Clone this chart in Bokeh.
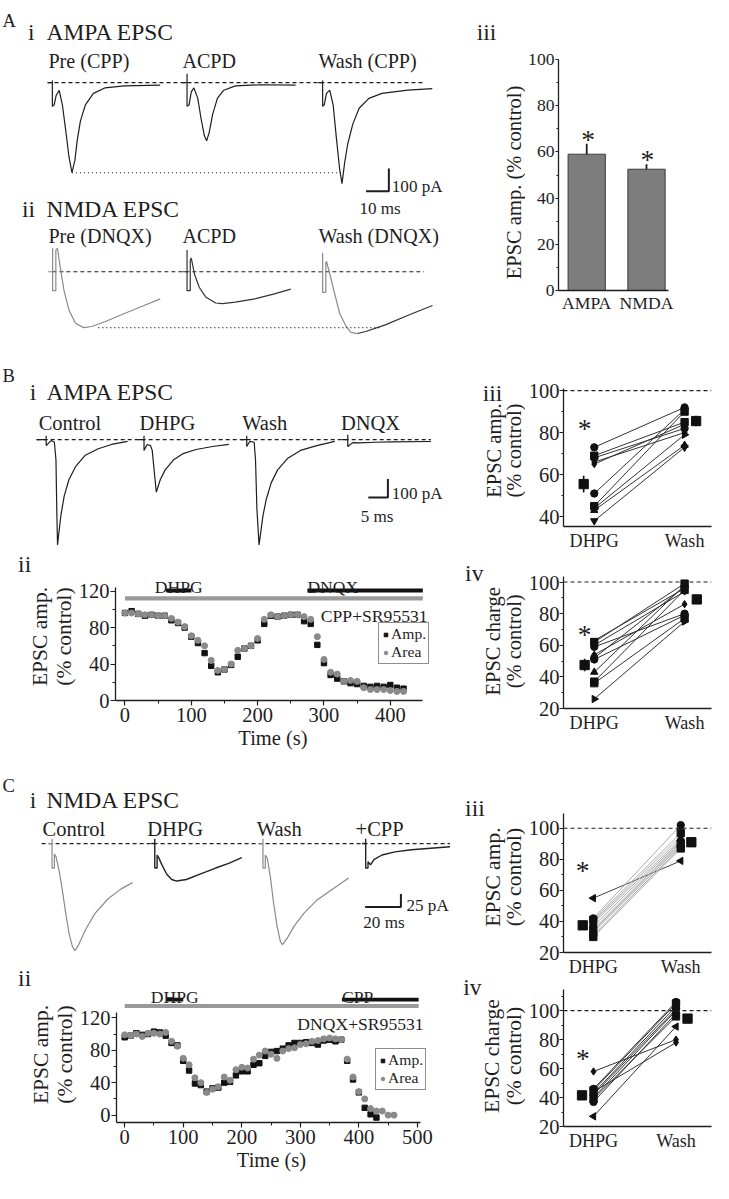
import math
from bokeh.plotting import figure
from bokeh.layouts import row, column
from bokeh.models import Range1d, FixedTicker, Span, Label, Legend, LegendItem, ColumnDataSource
from bokeh.embed import file_html
from bokeh.resources import INLINE

# ============================ DATA ============================
# A i : AMPA EPSC traces (time from stimulus in ms, current in pA)
A1_pre_t = [-2, 0, 0, 0, 0.8, 1.7, 3.0, 4.4, 5.9, 7.3, 8.6, 9.9, 10.9, 12.3, 14.5, 18, 23, 31.6, 47.3]
A1_pre_i = [0, 0, 9, -104, -97, -55, -34, -97, -212, -326, -395, -340, -254, -169, -97, -47, -23, -14, -11]
A1_acpd_t = [-2, 0, 0, 0, 0.9, 1.85, 3.0, 4.7, 6.1, 7.6, 8.6, 9.7, 11.2, 13.3, 16.1, 21.2, 32.6, 47.6]
A1_acpd_i = [0, 0, 39, -103, -97, -40, -23, -69, -155, -233, -255, -219, -140, -69, -33, -14, -9, -11]
A1_wash_t = [-2, 0, 0, 0, 0.7, 1.7, 3.1, 4.6, 6.0, 7.5, 8.5, 9.6, 11.0, 13.2, 16.0, 20.3, 26, 37.4, 48.1]
A1_wash_i = [0, 0, 10, -104, -97, -47, -33, -97, -240, -383, -443, -355, -269, -183, -112, -69, -47, -33, -26]
A1_labels = ["Pre (CPP)", "ACPD", "Wash (CPP)"]

# A ii : NMDA EPSC traces
A2_pre_t = [-2, 0, 0, 0, 1.4, 1.4, 2.1, 3.6, 5.0, 7.2, 10.0, 13.6, 17.2, 22.9, 31.5, 40.1, 47.2]
A2_pre_i = [0, 0, 103, -83, -83, 95, 103, 3, -83, -169, -226, -245, -240, -219, -183, -148, -119]
A2_acpd_t = [-2, 0, 0, 0, 1.4, 1.4, 1.85, 3.3, 5.4, 8.3, 12.6, 15.5, 21.2, 29.7, 38.3, 45.5]
A2_acpd_i = [0, 0, 96, -83, -83, 50, 60, -12, -69, -112, -137, -140, -133, -119, -97, -76]
A2_wash_t = [-2, 0, 0, 0, 1.4, 1.4, 1.7, 3.2, 5.3, 7.5, 10.3, 12.4, 15.3, 18.9, 27.5, 37.5, 48.2]
A2_wash_i = [0, 0, 82, -90, -90, 40, 45, -12, -97, -183, -240, -266, -271, -262, -233, -191, -148]
A2_labels = ["Pre (DNQX)", "ACPD", "Wash (DNQX)"]

# A iii : summary bars
A3_groups = ["AMPA", "NMDA"]
A3_mean = [59.0, 52.5]
A3_sem = [4.5, 2.2]

# B i : AMPA EPSC traces
B1_ctrl_t = [-2.5, 0, 0, 0, 1.25, 2.1, 2.5, 2.7, 2.9, 3.75, 4.6, 5.8, 7.5, 10, 13.3, 16.7, 20.8]
B1_ctrl_i = [0, 0, 21, -32, -5, -14, -110, -374, -567, -409, -304, -216, -146, -84, -49, -26, -9]
B1_dhpg_t = [-1.5, 0, 0, 0, 0.8, 1.65, 2.1, 2.7, 3.15, 4.15, 5.4, 7.5, 10, 13.3, 17.5, 21.7]
B1_dhpg_i = [0, 0, 21, -58, -26, -32, -58, -189, -283, -216, -163, -110, -75, -53, -37, -26]
B1_wash_t = [-1.5, 0, 0, 0, 0.8, 1.9, 2.25, 2.6, 3.15, 4.15, 5.0, 6.25, 7.9, 10.4, 13.75, 17.9, 22.5]
B1_wash_i = [0, 0, 21, -37, -9, -14, -110, -374, -567, -409, -321, -233, -163, -102, -58, -32, -9]
B1_dnqx_t = [-1.5, 0, 0, 0, 1.25, 2.9, 7.1, 11.25, 21.25]
B1_dnqx_i = [0, 0, 26, -37, -16, -17, -14, -12, -10]
B1_labels = ["Control", "DHPG", "Wash", "DNQX"]

# B ii : time course (s, % control)
B2_t = [0, 10, 20, 30, 40, 50, 60, 70, 80, 90, 100, 110, 120, 130, 140, 150, 160, 170, 180, 190, 200,
        210, 220, 230, 240, 250, 260, 270, 280, 290, 300, 310, 320, 330, 340, 350, 360, 370, 380, 390,
        400, 410, 420]
B2_amp = [96, 98, 95, 93, 94, 93, 93, 88, 85, 80, 70, 63, 52, 38, 31, 34, 39, 48, 57, 60, 66,
          84, 93, 92, 93, 94, 94, 87, 84, 61, 41, 28, 24, 21, 19, 18, 16, 15, 16, 15, 17, 14, 13]
B2_area = [96, 96, 95, 94, 94, 93, 93, 90, 86, 81, 71, 66, 60, 44, 33, 34, 40, 55, 57, 60, 68,
           89, 94, 92, 93, 94, 94, 92, 89, 70, 45, 31, 29, 21, 22, 21, 14, 12, 12, 12, 11, 10, 10]
B2_drugs = ["DHPG", "DNQX"]
B2_drug_on = [62, 275]
B2_drug_off = [100, 449]
B2_base_label = "CPP+SR95531"
B2_base_on, B2_base_off = 0, 449

# B iii : EPSC amplitude, individual cells + mean
B3_dhpg = [73, 69, 68, 66, 65, 51, 45, 44, 43, 38]
B3_wash = [92, 85, 82, 80, 84, 91, 90, 79, 74, 73]
B3_mean = [55.5, 85.5]
B3_sem = [4.0, 2.5]

# B iv : EPSC charge
B4_dhpg = [63, 62, 60, 59, 54, 52, 51, 43, 37, 36, 26]
B4_wash = [96, 99, 94, 80, 86, 97, 79, 98, 95, 77, 75]
B4_mean = [47.5, 89.0]
B4_sem = [4.0, 2.0]

# C i : NMDA EPSC traces
C1_ctrl_t = [-2, 0, 0, 0, 1.3, 1.3, 2.2, 4, 5.8, 7.65, 9.45, 11.3, 12.7, 14.9, 18.6, 24, 31.3, 38.6, 45]
C1_ctrl_i = [0, 0, 9, -47, -47, -20, -25, -53, -91, -134, -172, -197, -206, -194, -166, -134, -106, -87, -75]
C1_dhpg_t = [-2, 0, 0, 0, 1.3, 1.3, 2.2, 4, 6.7, 9.45, 12.2, 17.65, 24.9, 34, 41.3, 48.6]
C1_dhpg_i = [0, 0, 9, -47, -47, -22, -27, -41, -59, -69, -72, -69, -59, -47, -38, -27]
C1_wash_t = [-2, 0, 0, 0, 1.3, 1.3, 2.4, 4.2, 6, 7.9, 9.7, 10.9, 13.7, 17.3, 22.8, 30, 39.2, 47.9]
C1_wash_i = [0, 0, 9, -47, -47, -22, -28, -66, -116, -159, -188, -194, -181, -159, -134, -109, -87, -66]
C1_cpp_t = [-2, 0, 0, 0, 1.3, 1.3, 2.7, 4.6, 9.1, 16.4, 25.5, 36.4, 47.4]
C1_cpp_i = [0, 0, 9, -47, -47, -35, -41, -31, -22, -16, -12, -9, -6]
C1_labels = ["Control", "DHPG", "Wash", "+CPP"]

# C ii : time course
C2_t_amp = [0, 10, 20, 30, 40, 50, 60, 70, 80, 90, 100, 110, 120, 130, 140, 150, 160, 170, 180, 190,
            200, 210, 220, 230, 240, 250, 260, 270, 280, 290, 300, 310, 320, 330, 340, 350, 360, 370,
            380, 390, 400, 410, 420, 430]
C2_amp = [96, 98, 101, 99, 100, 103, 102, 98, 89, 86, 67, 55, 39, 37, 29, 33, 34, 40, 41, 49,
          54, 54, 62, 64, 73, 78, 79, 82, 86, 89, 89, 90, 89, 87, 92, 93, 91, 93,
          67, 44, 28, 9, 1, -3]
C2_t_area = [0, 10, 20, 30, 40, 50, 60, 70, 80, 90, 100, 110, 120, 130, 140, 150, 160, 170, 180, 190,
             200, 210, 220, 230, 240, 250, 260, 270, 280, 290, 300, 310, 320, 330, 340, 350, 360, 370,
             380, 390, 400, 410, 420, 430, 440, 450, 460]
C2_area = [99, 98, 100, 97, 101, 101, 100, 102, 91, 85, 70, 62, 46, 40, 28, 32, 35, 47, 43, 56,
           59, 58, 69, 74, 79, 75, 70, 79, 82, 83, 87, 88, 91, 92, 94, 95, 94, 93,
           69, 47, 29, 20, 8, 5, 5, 0, 0]
C2_drugs = ["DHPG", "CPP"]
C2_drug_on = [71, 371]
C2_drug_off = [100, 502]
C2_base_label = "DNQX+SR95531"
C2_base_on, C2_base_off = 0, 502

# C iii : EPSC amplitude
C3_dhpg = [55, 42, 41, 40, 39, 37, 35, 34, 33, 31, 30]
C3_wash = [79, 102, 97, 95, 93, 92, 91, 90, 89, 88, 87]
C3_mean = [37.5, 91.0]
C3_sem = [1.5, 1.5]

# C iv : EPSC charge
C4_dhpg = [58, 46, 45, 44, 43, 42, 40, 39, 37, 27]
C4_wash = [80, 106, 105, 78, 103, 101, 100, 96, 98, 89]
C4_mean = [41.5, 94.5]
C4_sem = [2.0, 2.0]

# ============================ STYLE ============================
FONT = "Liberation Serif"
K = 713 / 729.0
DARK = "#1e1e1e"
GREY = "#8a8a8a"
B3_shapes = ["circle", "square", "circle", "diamond", "diamond", "circle", "square", "triangle_right", "triangle", "inverted_triangle"]
B4_shapes = ["inverted_triangle", "square", "diamond", "circle", "diamond", "circle", "circle", "triangle", "square", "square", "triangle_right"]
C3_shapes = ["triangle_left", "circle", "square", "diamond", "triangle", "circle", "inverted_triangle", "square", "diamond", "circle", "square"]
C4_shapes = ["diamond", "circle", "square", "diamond", "triangle", "circle", "inverted_triangle", "square", "circle", "triangle_left"]


def px(v):
    return int(round(v * K))


def fs(v):
    return "%.1fpx" % (v * K)


class Panel:
    def __init__(self, x0, y0, x1, y1, frame, xr, yr, axes=True):
        fl, ft, fr, fb = frame
        self.fl, self.ft, self.fr, self.fb = fl, ft, fr, fb
        self.xs, self.xe = xr
        self.ys, self.ye = yr
        kw = dict(width=px(x1) - px(x0), height=px(y1) - px(y0),
                  x_range=Range1d(*xr), y_range=Range1d(*yr),
                  output_backend="svg", toolbar_location=None,
                  min_border_left=px(fl) - px(x0), min_border_right=px(x1) - px(fr),
                  min_border_top=px(ft) - px(y0), min_border_bottom=px(y1) - px(fb))
        if not axes:
            kw.update(x_axis_location=None, y_axis_location=None)
        p = figure(**kw)
        p.frame_align = False
        p.outline_line_color = None
        p.xgrid.visible = False
        p.ygrid.visible = False
        p.background_fill_color = "white"
        p.border_fill_color = "white"
        self.p = p

    def X(self, xr):
        return self.xs + (xr - self.fl) / (self.fr - self.fl) * (self.xe - self.xs)

    def Y(self, yr):
        return self.ys + (self.fb - yr) / (self.fb - self.ft) * (self.ye - self.ys)


def txt(P, xr, yr, s, size, align="left", base="alphabetic", angle=0.0, color=DARK):
    P.p.add_layout(Label(x=P.X(xr), y=P.Y(yr), text=s, text_font=FONT, text_font_size=fs(size),
                         text_align=align, text_baseline=base, angle=angle, text_color=color))


def style_axis(ax, size, tick_out=5, minor_out=3, standoff=2):
    ax.axis_line_color = DARK
    ax.axis_line_width = 1.3
    ax.major_tick_line_color = DARK
    ax.major_tick_line_width = 1.2
    ax.major_tick_out = tick_out
    ax.major_tick_in = 0
    ax.minor_tick_line_color = DARK
    ax.minor_tick_out = minor_out
    ax.minor_tick_in = 0
    ax.major_label_text_font = FONT
    ax.major_label_text_font_size = fs(size)
    ax.major_label_text_color = DARK
    ax.major_label_standoff = standoff


def axis_title(ax, s, size, standoff=0):
    ax.axis_label = s
    ax.axis_label_text_font = FONT
    ax.axis_label_text_font_size = fs(size)
    ax.axis_label_text_font_style = "normal"
    ax.axis_label_text_color = DARK
    ax.axis_label_standoff = standoff
    ax.axis_label_text_line_height = 1.0


def trace_panel(x0, y0, x1, y1, ms_px, pa_px):
    return Panel(x0, y0, x1, y1, (x0, y0, x1, y1), (0, (x1 - x0) / ms_px), (-(y1 - y0) / pa_px, 0), axes=False)


def draw_trace(P, t, i, stim_x, base_y, color=DARK, width=1.2):
    T0, B0 = P.X(stim_x), P.Y(base_y)
    P.p.line([v + T0 for v in t], [v + B0 for v in i], line_color=color, line_width=width)


def baseline(P, xa, xb, base_y, dash="4 3"):
    B0 = P.Y(base_y)
    P.p.line([P.X(xa), P.X(xb)], [B0, B0], line_color=DARK, line_width=1.2, line_dash=dash)


def scale_bar(P, cx, cy, ms, pa, lab_pa, lab_ms, pa_xy, ms_xy, size):
    X0, Y0 = P.X(cx), P.Y(cy)
    P.p.line([X0 - ms, X0, X0], [Y0, Y0, Y0 + pa], line_color=DARK, line_width=2)
    txt(P, pa_xy[0], pa_xy[1], lab_pa, size)
    txt(P, ms_xy[0], ms_xy[1], lab_ms, size, align="center")


# ============================ A : traces ============================
PA = trace_panel(0, 0, 460, 368, 2.33, 0.233)
txt(PA, 2, 20, "A", 19)
txt(PA, 28, 32, "i", 24)
txt(PA, 47, 32, "AMPA EPSC", 24)
txt(PA, 22, 213, "ii", 24)
txt(PA, 47, 213, "NMDA EPSC", 24)
for lab, xx in zip(A1_labels, [49, 186, 325]):
    txt(PA, xx, 62, lab, 20.5)
for lab, xx in zip(A2_labels, [49, 186, 325]):
    txt(PA, xx, 241, lab, 20.5)
A1_stim = [53, 190.7, 329.3]
baseline(PA, 48, 433, 84)
for (t, i), sx in zip([(A1_pre_t, A1_pre_i), (A1_acpd_t, A1_acpd_i), (A1_wash_t, A1_wash_i)], A1_stim):
    draw_trace(PA, t, i, sx, 84)
pk = min(A1_pre_i)
PA.p.line([PA.X(A1_stim[0]) + A1_pre_t[A1_pre_i.index(pk)], PA.X(A1_stim[2]) + A1_wash_t[A1_wash_i.index(min(A1_wash_i))] - 0.5],
          [PA.Y(84) + pk] * 2, line_color=DARK, line_width=1.1, line_dash="1 3")
A2_stim = [53.3, 190.7, 329.3]
baseline(PA, 53, 433, 277.3)
draw_trace(PA, A2_pre_t, A2_pre_i, A2_stim[0], 277.3, color=GREY)
draw_trace(PA, A2_acpd_t, A2_acpd_i, A2_stim[1], 277.3, color="#333333")
cut = 12
draw_trace(PA, A2_wash_t[:cut + 1], A2_wash_i[:cut + 1], A2_stim[2], 277.3, color=GREY)
draw_trace(PA, A2_wash_t[cut:], A2_wash_i[cut:], A2_stim[2], 277.3, color="#333333")
pk2 = min(A2_pre_i)
PA.p.line([PA.X(100), PA.X(390)], [PA.Y(277.3) + pk2] * 2, line_color=DARK, line_width=1.1, line_dash="1 3")
scale_bar(PA, 397, 195, 10, 100, "100 pA", "10 ms", (400, 190), (388, 213), 17.5)

# ============================ B i : traces ============================
PB1 = trace_panel(0, 368, 460, 585, 4.0, 0.19)
txt(PB1, 2, 383, "B", 19)
txt(PB1, 30, 400, "i", 24)
txt(PB1, 47, 400, "AMPA EPSC", 24)
txt(PB1, 18, 576, "ii", 24)
for lab, xx in zip(B1_labels, [39, 142, 247, 348]):
    txt(PB1, xx, 432, lab, 21)
baseline(PB1, 37, 440, 449)
B1_stim = [46.7, 146.7, 251.7, 355]
for (t, i), sx in zip([(B1_ctrl_t, B1_ctrl_i), (B1_dhpg_t, B1_dhpg_i), (B1_wash_t, B1_wash_i), (B1_dnqx_t, B1_dnqx_i)], B1_stim):
    draw_trace(PB1, t, i, sx, 449)
scale_bar(PB1, 396, 508.3, 5, 100, "100 pA", "5 ms", (400, 504), (385, 528), 17.5)


# ============================ time course helper ============================
def time_course(P, t_amp, amp, t_area, area, xt, xmt, ax_xb, ax_yb, drugs, on, off, bar_y, lab_y,
                base_lab, b_on, b_off, base_y, base_lab_xy, leg_xy):
    p = P.p
    r1 = p.scatter(t_amp, amp, marker="square", size=5.5 * K, fill_color="#111111", line_color="#111111")
    r2 = p.scatter(t_area, area, marker="circle", size=6.2 * K, fill_color=GREY, line_color=GREY)
    p.segment(x0=[b_on], y0=[base_y], x1=[b_off], y1=[base_y], line_color="#9a9a9a", line_width=4.2 * K)
    p.segment(x0=on, y0=[bar_y] * len(on), x1=off, y1=[bar_y] * len(on), line_color="#111111", line_width=4 * K)
    for k, (d, a, b) in enumerate(zip(drugs, on, off)):
        p.add_layout(Label(x=((a + b) / 2 if k == 0 else a), y=lab_y, text=d, text_font=FONT, text_font_size=fs(18),
                           text_align=("center" if k == 0 else "left"), text_baseline="alphabetic", text_color=DARK))
    txt(P, base_lab_xy[0], base_lab_xy[1], base_lab, 18, align="right")
    p.yaxis.ticker = FixedTicker(ticks=[0, 40, 80, 120], minor_ticks=[20, 60, 100])
    p.xaxis.ticker = FixedTicker(ticks=xt, minor_ticks=xmt)
    p.xaxis.bounds = ax_xb
    p.yaxis.bounds = ax_yb
    style_axis(p.yaxis[0], 21, standoff=1)
    style_axis(p.xaxis[0], 21)
    axis_title(p.yaxis[0], "EPSC amp.\n(% control)", 22, standoff=0)
    axis_title(p.xaxis[0], "Time (s)", 21, standoff=2)
    leg = Legend(items=[LegendItem(label="Amp.", renderers=[r1]), LegendItem(label="Area", renderers=[r2])],
                 location=(px(leg_xy[0]), px(leg_xy[1])))
    leg.label_text_font = FONT
    leg.label_text_font_size = fs(16)
    leg.label_text_color = DARK
    leg.label_standoff = 1
    leg.label_height = int(14 * K)
    leg.label_text_line_height = 0.9
    leg.glyph_width = int(10 * K)
    leg.glyph_height = int(12 * K)
    leg.spacing = 0
    leg.padding = 2
    leg.margin = 0
    leg.border_line_color = DARK
    leg.border_line_width = 1.4
    leg.background_fill_alpha = 1.0
    p.add_layout(leg)


# ============================ B ii ============================
PB2 = Panel(0, 585, 460, 790, (118, 585, 440, 715.7), (-14.3, 460.6), (0, 140.4))
time_course(PB2, B2_t, B2_amp, B2_t, B2_area, [0, 100, 200, 300, 400], [50, 150, 250, 350],
            (-14.3, 449), (0, 124), B2_drugs, B2_drug_on, B2_drug_off, 120.7, 124.8,
            B2_base_label, B2_base_on, B2_base_off, 112, (437, 629), (269, 36.7))

# ============================ C i : traces ============================
PC1 = trace_panel(0, 790, 460, 1008, 1.83, 0.533)
txt(PC1, 2, 802, "C", 19)
txt(PC1, 30, 817, "i", 24)
txt(PC1, 47, 817, "NMDA EPSC", 24)
txt(PC1, 18, 999, "ii", 24)
for lab, xx in zip(C1_labels, [43, 150, 262, 363]):
    txt(PC1, xx, 847, lab, 21)
baseline(PC1, 42, 460, 861.7)
C1_stim = [52.7, 157.7, 268.3, 373.3]
draw_trace(PC1, C1_ctrl_t, C1_ctrl_i, C1_stim[0], 861.7, color=GREY)
draw_trace(PC1, C1_dhpg_t, C1_dhpg_i, C1_stim[1], 861.7, color="#222222", width=1.4)
draw_trace(PC1, C1_wash_t, C1_wash_i, C1_stim[2], 861.7, color=GREY)
draw_trace(PC1, C1_cpp_t, C1_cpp_i, C1_stim[3], 861.7, color="#222222", width=1.4)
scale_bar(PC1, 409.3, 926.7, 20, 25, "25 pA", "20 ms", (415, 925), (392, 943), 17.5)

# ============================ C ii ============================
PC2 = Panel(0, 1008, 460, 1199, (118.3, 1008, 436, 1150), (-14, 515.5), (-9.1, 158.6))
time_course(PC2, C2_t_amp, C2_amp, C2_t_area, C2_area, [0, 100, 200, 300, 400, 500], [50, 150, 250, 350, 450],
            (-14, 505), (-9.1, 126), C2_drugs, C2_drug_on, C2_drug_off, 142.4, 145.2,
            C2_base_label, C2_base_on, C2_base_off, 134.6, (433, 1047), (264.7, 33))

# ============================ right column: label strip ============================
SPLIT = 537
PS = Panel(460, 0, SPLIT, 1199, (460, 0, SPLIT, 1199), (460, SPLIT), (1199, 0), axes=False)
txt(PS, 487, 32, "iii", 24)
txt(PS, 525, 186, "EPSC amp. (% control)", 21, align="center", base="middle", angle=math.pi / 2)
txt(PS, 493, 401, "iii", 24)
txt(PS, 505, 460, "EPSC amp.", 21, align="center", base="middle", angle=math.pi / 2)
txt(PS, 525, 460, "(% control)", 21, align="center", base="middle", angle=math.pi / 2)
txt(PS, 475, 585, "iv", 24)
txt(PS, 504, 655, "EPSC charge", 21, align="center", base="middle", angle=math.pi / 2)
txt(PS, 525, 655, "(% control)", 21, align="center", base="middle", angle=math.pi / 2)
txt(PS, 475, 825, "iii", 24)
txt(PS, 504, 896, "EPSC amp.", 22, align="center", base="middle", angle=math.pi / 2)
txt(PS, 525, 896, "(% control)", 22, align="center", base="middle", angle=math.pi / 2)
txt(PS, 473, 1008, "iv", 24)
txt(PS, 503, 1079, "EPSC charge", 22, align="center", base="middle", angle=math.pi / 2)
txt(PS, 525, 1079, "(% control)", 22, align="center", base="middle", angle=math.pi / 2)

# ============================ A iii : bars ============================
PA3 = Panel(SPLIT, 0, 729, 368, (568, 60, 683, 296), (-0.472, 1.368), (0, 100))
p = PA3.p
p.vbar(x=[0, 1], top=A3_mean, bottom=0, width=0.624, fill_color="#7d7d7d", line_color="#3c3c3c", line_width=1)
p.segment(x0=[0, 1], y0=A3_mean, x1=[0, 1], y1=[m + s for m, s in zip(A3_mean, A3_sem)], line_color=DARK, line_width=1.8)
p.yaxis.ticker = FixedTicker(ticks=[0, 20, 40, 60, 80, 100], minor_ticks=[10, 30, 50, 70, 90])
p.xaxis.ticker = FixedTicker(ticks=[0, 1], minor_ticks=[])
p.xaxis.major_label_overrides = {0: A3_groups[0], 1: A3_groups[1]}
style_axis(p.yaxis[0], 18, tick_out=3, minor_out=2, standoff=1)
style_axis(p.xaxis[0], 18, tick_out=0, minor_out=0)
txt(PA3, 599, 142, "*", 28, align="center")
txt(PA3, 661, 163, "*", 28, align="center")


# ============================ pair panels ============================
def pair_panel(P, dhpg, wash, shapes, mean_x, means, sems, line_cols, yt, ymt, star_xy):
    p = P.p
    n = len(dhpg)
    mk = [s if s in ("circle", "square", "diamond", "triangle", "inverted_triangle") else "triangle" for s in shapes]
    an = [(-math.pi / 2 if s == "triangle_right" else (math.pi / 2 if s == "triangle_left" else 0.0)) for s in shapes]
    p.add_layout(Span(location=100, dimension="width", line_color=DARK, line_width=1.1, line_dash="4 3"))
    p.segment(x0=[0] * n, y0=dhpg, x1=[1] * n, y1=wash, line_color=line_cols, line_width=1.0)
    src = ColumnDataSource(dict(x=[0] * n + [1] * n, y=list(dhpg) + list(wash), m=mk + mk, a=an + an))
    p.scatter("x", "y", marker="m", angle="a", size=7.5 * K, fill_color="#111111", line_color="#111111", source=src)
    p.segment(x0=mean_x, y0=[m - s for m, s in zip(means, sems)], x1=mean_x, y1=[m + s for m, s in zip(means, sems)],
              line_color="#111111", line_width=1.6)
    p.scatter(mean_x, means, marker="square", size=9.5 * K, fill_color="#111111", line_color="#111111")
    p.yaxis.ticker = FixedTicker(ticks=yt, minor_ticks=ymt)
    p.xaxis.ticker = FixedTicker(ticks=[0, 1], minor_ticks=[])
    p.xaxis.major_label_overrides = {0: "DHPG", 1: "Wash"}
    style_axis(p.yaxis[0], 21, tick_out=4, minor_out=2, standoff=0)
    style_axis(p.xaxis[0], 18.5, tick_out=0, minor_out=0, standoff=4)
    txt(P, star_xy[0], star_xy[1], "*", 28, align="center")


PB3 = Panel(SPLIT, 368, 729, 588, (573, 397, 727, 537.3), ((573 - 605) / 94, (727 - 605) / 94), (35.3, 101))
pair_panel(PB3, B3_dhpg, B3_wash, B3_shapes, [(594 - 605) / 94, (711 - 605) / 94], B3_mean, B3_sem,
           ["#333333"] * len(B3_dhpg), [40, 60, 80, 100], [50, 70, 90], (595, 438))

PB4 = Panel(SPLIT, 588, 729, 790, (573, 589, 727, 724.3), ((573 - 605) / 94, (727 - 605) / 94), (20, 103.5))
pair_panel(PB4, B4_dhpg, B4_wash, B4_shapes, [(595 - 605) / 94, (711.7 - 605) / 94], B4_mean, B4_sem,
           ["#333333"] * len(B4_dhpg), [20, 40, 60, 80, 100], [30, 50, 70, 90], (595, 649))

PC3 = Panel(SPLIT, 790, 729, 1010, (573, 831.7, 727, 973.3), ((573 - 604) / 91, (727 - 604) / 91), (20, 109.5))
pair_panel(PC3, C3_dhpg, C3_wash, C3_shapes, [(593 - 604) / 91, (706 - 604) / 91], C3_mean, C3_sem,
           ["#444444"] + ["#ababab"] * (len(C3_dhpg) - 1), [20, 40, 60, 80, 100], [30, 50, 70, 90], (593, 890))

PC4 = Panel(SPLIT, 1010, 729, 1199, (572.7, 1011.7, 727, 1151.7), ((572.7 - 604) / 86, (727 - 604) / 86), (20, 114.6))
pair_panel(PC4, C4_dhpg, C4_wash, C4_shapes, [(592 - 604) / 86, (702 - 604) / 86], C4_mean, C4_sem,
           ["#333333"] * len(C4_dhpg), [20, 40, 60, 80, 100], [30, 50, 70, 90, 110], (593, 1083))

# ============================ layout ============================
left = column(PA.p, PB1.p, PB2.p, PC1.p, PC2.p)
right = row(PS.p, column(PA3.p, PB3.p, PB4.p, PC3.p, PC4.p))
layout = row(left, right)
open("out.html", "w").write(file_html(layout, INLINE, "EPSC figure"))
